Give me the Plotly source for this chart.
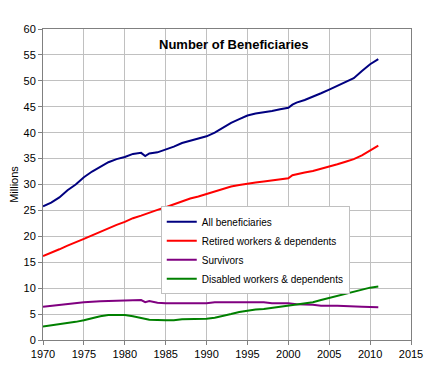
import plotly.graph_objects as go

years_all = [1970, 1971, 1972, 1973, 1974, 1975, 1976, 1977, 1978, 1979, 1980, 1981, 1982, 1982.5, 1983, 1984, 1985,
             1986, 1987, 1988, 1989, 1990, 1991, 1992, 1993, 1994, 1995, 1996, 1997, 1998, 1999, 2000, 2000.5,
             2001, 2002, 2003, 2004, 2005, 2006, 2007, 2008, 2009, 2010, 2011]
all_benef = [25.8, 26.5, 27.5, 28.9, 30.0, 31.4, 32.5, 33.4, 34.3, 34.9, 35.3, 35.9, 36.1, 35.5, 36.0, 36.2, 36.7,
             37.3, 38.0, 38.4, 38.8, 39.3, 40.0, 41.0, 41.9, 42.6, 43.3, 43.7, 43.9, 44.2, 44.5, 44.8, 45.4,
             45.8, 46.3, 46.9, 47.6, 48.3, 49.0, 49.7, 50.5, 51.9, 53.2, 54.2]

years_ret = [1970, 1971, 1972, 1973, 1974, 1975, 1976, 1977, 1978, 1979, 1980, 1981, 1982, 1983, 1984, 1985,
             1986, 1987, 1988, 1989, 1990, 1991, 1992, 1993, 1994, 1995, 1996, 1997, 1998, 1999, 2000, 2000.5,
             2001, 2002, 2003, 2004, 2005, 2006, 2007, 2008, 2009, 2010, 2011]
retired = [16.2, 16.8, 17.5, 18.2, 18.8, 19.5, 20.2, 20.9, 21.6, 22.2, 22.8, 23.5, 24.0, 24.6, 25.1, 25.6,
           26.2, 26.8, 27.3, 27.7, 28.2, 28.6, 29.1, 29.6, 29.9, 30.2, 30.4, 30.6, 30.8, 30.9, 31.2, 31.8,
           32.0, 32.3, 32.6, 33.0, 33.4, 33.9, 34.4, 34.9, 35.6, 36.6, 37.5]

years_surv = [1970, 1972, 1973, 1975, 1977, 1980, 1981, 1982, 1982.5, 1983, 1984, 1985, 1990, 1991, 1997, 1998,
              2000, 2001, 2003, 2004, 2006, 2007, 2009, 2011]
survivors = [6.4, 6.8, 7.0, 7.3, 7.5, 7.6, 7.7, 7.7, 7.3, 7.5, 7.2, 7.1, 7.1, 7.3, 7.3, 7.1,
             7.1, 6.9, 6.8, 6.6, 6.6, 6.5, 6.4, 6.3]

years_dis = [1970, 1972, 1974, 1975, 1976, 1977, 1978, 1980, 1981, 1982, 1983, 1985, 1986, 1987, 1990, 1991,
             1992, 1993, 1994, 1995, 1996, 1997, 1998, 1999, 2000, 2001, 2002, 2003, 2004, 2005, 2006, 2007,
             2008, 2009, 2010, 2011]
disabled = [2.6, 3.0, 3.5, 3.8, 4.2, 4.6, 4.8, 4.8, 4.6, 4.3, 3.9, 3.8, 3.8, 4.0, 4.1, 4.3,
            4.6, 5.0, 5.4, 5.7, 5.9, 6.0, 6.2, 6.4, 6.6, 6.8, 7.0, 7.3, 7.7, 8.1, 8.5, 8.8,
            9.2, 9.6, 10.1, 10.3]

x_ticks = [1970, 1975, 1980, 1985, 1990, 1995, 2000, 2005, 2010, 2015]
y_ticks = [0, 5, 10, 15, 20, 25, 30, 35, 40, 45, 50, 55, 60]

fig = go.Figure()
series = [
    ("All beneficiaries", years_all, all_benef, "#000080"),
    ("Retired workers & dependents", years_ret, retired, "#ff0000"),
    ("Survivors", years_surv, survivors, "#800080"),
    ("Disabled workers & dependents", years_dis, disabled, "#008000"),
]
for name, xs, ys, col in series:
    fig.add_trace(go.Scatter(x=xs, y=ys, name=name, mode="lines",
                             line=dict(color=col, width=2)))

font = "Liberation Sans, Arial, sans-serif"
fig.update_layout(
    width=434, height=366,
    margin=dict(l=35, r=31, t=21, b=34),
    paper_bgcolor="white", plot_bgcolor="white",
    font=dict(family=font, size=11, color="black"),
    showlegend=True,
    legend=dict(x=0.32, y=0.43, xanchor="left", yanchor="top",
                bgcolor="white", bordercolor="#c0c0c0", borderwidth=1,
                font=dict(size=10, family=font)),
    annotations=[dict(text="<b>Number of Beneficiaries</b>", x=0.52, y=0.95,
                      xref="paper", yref="paper", showarrow=False,
                      xanchor="center", yanchor="middle",
                      font=dict(size=13, family=font))],
)
fig.update_xaxes(range=[1970, 2015], tickvals=x_ticks, ticktext=[str(v) for v in x_ticks],
                 showgrid=True, gridcolor="#c0c0c0", gridwidth=1,
                 showline=True, linecolor="#808080", mirror=True, automargin=False,
                 ticks="outside", ticklen=4, tickcolor="#808080", zeroline=False)
fig.update_yaxes(range=[0, 60], tickvals=y_ticks,
                 showgrid=True, gridcolor="#c0c0c0", gridwidth=1,
                 showline=True, linecolor="#808080", mirror=True, automargin=False,
                 ticks="outside", ticklen=4, tickcolor="#808080", zeroline=False,
                 title=dict(text="Millions", standoff=2, font=dict(size=11)))

fig.write_html("out.html")
